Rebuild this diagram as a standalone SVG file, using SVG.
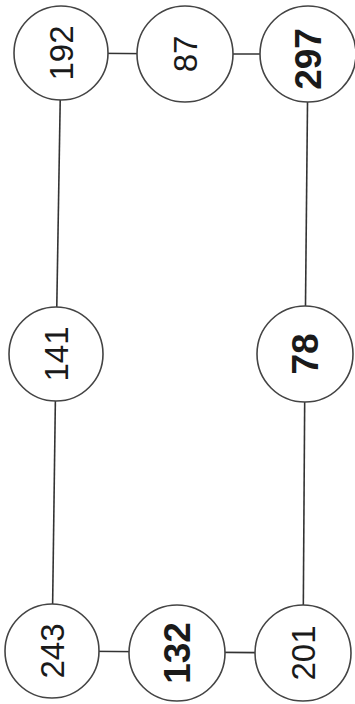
<svg xmlns="http://www.w3.org/2000/svg" width="355" height="704" viewBox="0 0 355 704">
<style>
.n circle{fill:#fff;stroke:#444;stroke-width:1.6}
.n text{font-family:"Liberation Sans",Arial,sans-serif;font-size:33px;fill:#1a1a1a;text-anchor:middle}
.n text.b{font-weight:bold;font-size:37px}
.e line{stroke:#333;stroke-width:1.6}
</style>
<rect width="355" height="704" fill="#fff"/>
<g class="e">
<line x1="61" y1="53" x2="185" y2="54"/>
<line x1="185" y1="54" x2="308" y2="54"/>
<line x1="61" y1="53" x2="56" y2="354"/>
<line x1="56" y1="354" x2="52" y2="651"/>
<line x1="308" y1="54" x2="305" y2="354"/>
<line x1="305" y1="354" x2="303" y2="653"/>
<line x1="52" y1="651" x2="177" y2="652"/>
<line x1="177" y1="652" x2="303" y2="653"/>
</g>
<g id="n192" class="n"><circle cx="61" cy="53" r="47"/><text transform="translate(61,53) rotate(-90)" dy="0.36em">192</text></g>
<g id="n87" class="n"><circle cx="185" cy="54" r="48"/><text transform="translate(185,54) rotate(-90)" dy="0.36em">87</text></g>
<g id="n297" class="n"><circle cx="308" cy="54" r="48"/><text class="b" transform="translate(308,59) rotate(-90)" dy="0.36em">297</text></g>
<g id="n141" class="n"><circle cx="56" cy="354" r="47"/><text transform="translate(56,354) rotate(-90)" dy="0.36em">141</text></g>
<g id="n78" class="n"><circle cx="305" cy="354" r="48"/><text class="b" transform="translate(305,354) rotate(-90)" dy="0.36em">78</text></g>
<g id="n243" class="n"><circle cx="52" cy="651" r="47"/><text transform="translate(52,651) rotate(-90)" dy="0.36em">243</text></g>
<g id="n132" class="n"><circle cx="177" cy="653" r="48"/><text class="b" transform="translate(177,653) rotate(-90)" dy="0.36em">132</text></g>
<g id="n201" class="n"><circle cx="303" cy="653" r="48"/><text transform="translate(303,653) rotate(-90)" dy="0.36em">201</text></g>
</svg>
